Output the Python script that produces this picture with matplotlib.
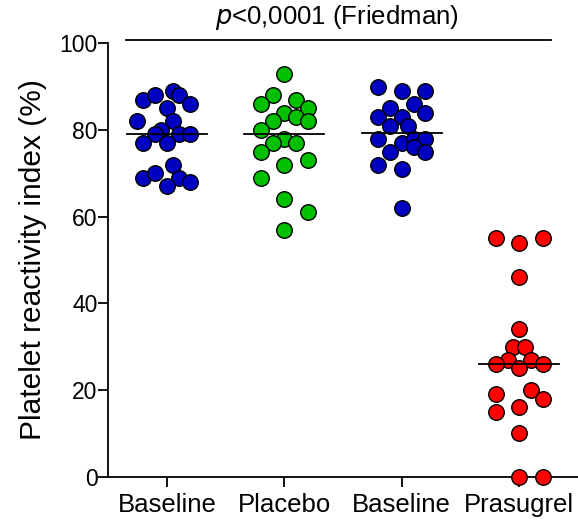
import matplotlib
matplotlib.use("Agg")
import matplotlib.pyplot as plt

plt.rcParams['font.family'] = ['Liberation Sans', 'DejaVu Sans']

# group labels and colours
groups = ["Baseline", "Placebo", "Baseline", "Prasugrel"]
colors = ["#0000c0", "#00c000", "#0000c0", "#ff0000"]

# values (%), with the horizontal scatter offset of each point
baseline1 = [87, 88, 89, 88, 86, 85, 82, 82, 80, 79, 79, 79, 77, 77, 72, 69, 70, 69, 68, 67]
baseline1_dx = [-0.20, -0.10, 0.05, 0.10, 0.20, 0.0, -0.25, 0.05, -0.05, -0.10,
                0.10, 0.20, -0.20, 0.0, 0.05, -0.20, -0.10, 0.10, 0.20, 0.0]

placebo = [93, 88, 86, 87, 85, 84, 83, 82, 82, 80, 78, 77, 77, 75, 72, 73, 69, 64, 61, 57]
placebo_dx = [0.0, -0.10, -0.20, 0.10, 0.20, 0.0, 0.10, 0.20, -0.10, -0.20,
              0.0, -0.10, 0.10, -0.20, 0.0, 0.20, -0.20, 0.0, 0.20, 0.0]

baseline2 = [90, 89, 89, 86, 85, 84, 83, 83, 81, 81, 78, 77, 78, 78, 76, 75, 75, 72, 71, 62]
baseline2_dx = [-0.20, 0.0, 0.20, 0.10, -0.10, 0.20, -0.20, 0.0, -0.10, 0.05,
                -0.20, 0.0, 0.10, 0.20, 0.10, 0.20, -0.10, -0.20, 0.0, 0.0]

prasugrel = [55, 54, 55, 46, 34, 30, 30, 27, 27, 26, 26, 25, 19, 20, 18, 15, 16, 10, 0, 0]
prasugrel_dx = [-0.20, 0.0, 0.20, 0.0, 0.0, -0.05, 0.05, -0.10, 0.10, -0.20,
                0.20, 0.0, -0.20, 0.10, 0.20, -0.20, 0.0, 0.0, 0.0, 0.20]

medians = [79, 79, 79.4, 26]

series = [(baseline1, baseline1_dx), (placebo, placebo_dx),
          (baseline2, baseline2_dx), (prasugrel, prasugrel_dx)]

fig = plt.figure(figsize=(5.78, 5.21), dpi=100)
ax = fig.add_axes([0.187, 0.085, 0.813, 0.832])

for i, (vals, dx) in enumerate(series):
    pos = i + 1
    xs = [pos + d for d in dx]
    ax.scatter(xs, vals, s=125, c=colors[i], edgecolors="black",
               linewidths=1.0, zorder=3, clip_on=False)
    ax.plot([pos - 0.34, pos + 0.34], [medians[i], medians[i]],
            color="black", lw=1.3, zorder=4)

ax.set_xlim(0.5, 4.5)
ax.set_ylim(0, 100)
ax.set_yticks([0, 20, 40, 60, 80, 100])
ax.set_xticks([1, 2, 3, 4])
ax.set_xticklabels(groups)
ax.tick_params(axis="both", width=1.3, length=7, direction="out")
ax.tick_params(axis="y", labelsize=16.5, pad=0.5)
ax.tick_params(axis="x", labelsize=18.5, pad=5)
ax.spines["top"].set_visible(False)
ax.spines["right"].set_visible(False)
ax.spines["left"].set_linewidth(1.3)
ax.spines["bottom"].set_linewidth(1.3)
ax.set_ylabel("Platelet reactivity index (%)", fontsize=21.5, labelpad=9)

# significance bar over the groups
ax.plot([0.65, 4.27], [100.8, 100.8], color="black", lw=1.3, clip_on=False)
ax.text(2.45, 102.6, "$\\it{p}$<0,0001 (Friedman)", ha="center", va="bottom",
        fontsize=18.5)

fig.savefig("out.png", dpi=100)
